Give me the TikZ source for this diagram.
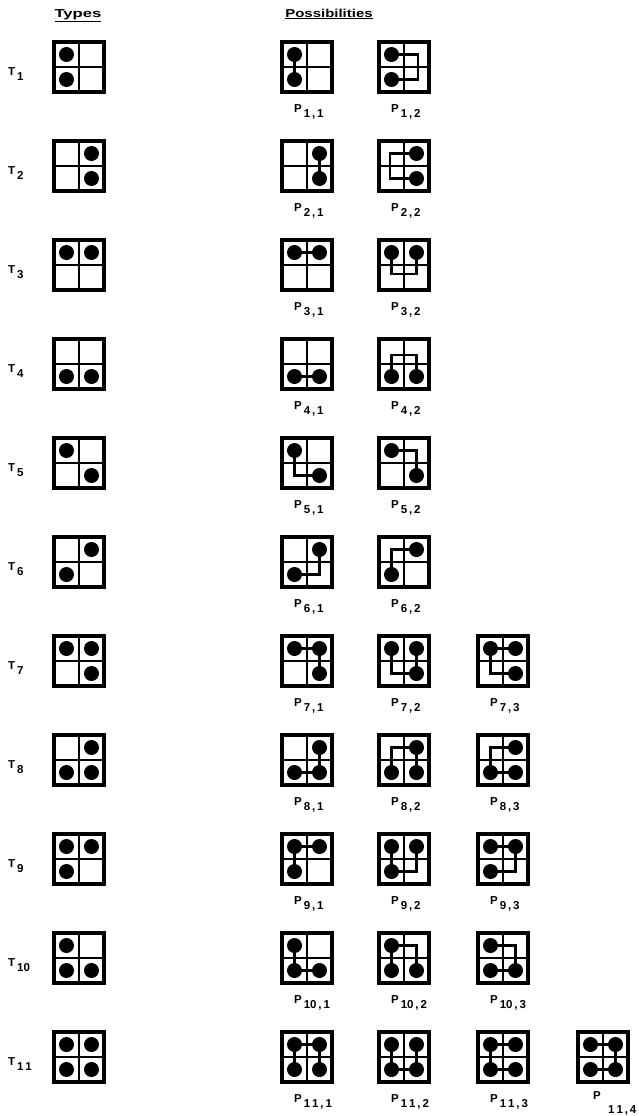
\documentclass[tikz,border=0pt]{standalone}
\usepackage{fontspec}
\setmainfont{Liberation Sans}
\tikzset{
  gridline/.style={line width=1.6pt},
  frame/.style={line width=3.6pt},
  wire/.style={line width=2.6pt, line join=miter},
  lbl/.style={font=\bfseries\fontsize{11.5}{13}\selectfont, inner sep=0pt, anchor=north west},
  head/.style={font=\bfseries\fontsize{11.5}{12}\selectfont, inner sep=0pt},
}
\newcommand\chip[3]{%
  \begin{scope}[shift={(#1,#2)}]
    \coordinate (tl) at (-12.5,-12.5);
    \coordinate (tr) at (12.5,-12.5);
    \coordinate (bl) at (-12.5,12.5);
    \coordinate (br) at (12.5,12.5);
    \draw[gridline] (-25,0) -- (25,0) (0,-25) -- (0,25);
    \draw[frame] (-25,-25) rectangle (25,25);
    #3
  \end{scope}}
\newcommand\dt[1]{\fill (#1) circle[radius=7.5pt];}
\newcommand\plab[3]{\node[lbl] at (#1-13,#2+37) {P\raisebox{-5pt}{\,#3}};}
\newcommand\tlab[2]{\node[lbl] at (8,#2) {T\raisebox{-5pt}{\,#1}};}
\begin{document}
\begin{tikzpicture}[x=1pt,y=-1pt]
\useasboundingbox (0,0) rectangle (639,1116);
\node[head] (htypes) at (78,16) {\underline{\scalebox{1.45}[1]{Types}}};
\node[head] (hposs) at (329,14) {\underline{\scalebox{1.3}[1]{Possibilities}}};
% ---- Row 1
\tlab{1}{67}
\chip{79}{67}{\dt{tl}\dt{bl}}
\chip{307}{67}{\draw[wire] (tl)--(bl); \dt{tl}\dt{bl}}
\plab{307}{67}{1\,,\,1}
\chip{404}{67}{\draw[wire] (tl)--(14,-12.5)--(14,12.5)--(bl); \dt{tl}\dt{bl}}
\plab{404}{67}{1\,,\,2}
% ---- Row 2
\tlab{2}{166}
\chip{79}{166}{\dt{tr}\dt{br}}
\chip{307}{166}{\draw[wire] (tr)--(br); \dt{tr}\dt{br}}
\plab{307}{166}{2\,,\,1}
\chip{404}{166}{\draw[wire] (tr)--(-14,-12.5)--(-14,12.5)--(br); \dt{tr}\dt{br}}
\plab{404}{166}{2\,,\,2}
% ---- Row 3
\tlab{3}{265}
\chip{79}{265}{\dt{tl}\dt{tr}}
\chip{307}{265}{\draw[wire] (tl)--(tr); \dt{tl}\dt{tr}}
\plab{307}{265}{3\,,\,1}
\chip{404}{265}{\draw[wire] (tl)--(-12.5,9)--(12.5,9)--(tr); \dt{tl}\dt{tr}}
\plab{404}{265}{3\,,\,2}
% ---- Row 4
\tlab{4}{364}
\chip{79}{364}{\dt{bl}\dt{br}}
\chip{307}{364}{\draw[wire] (bl)--(br); \dt{bl}\dt{br}}
\plab{307}{364}{4\,,\,1}
\chip{404}{364}{\draw[wire] (bl)--(-12.5,-9)--(12.5,-9)--(br); \dt{bl}\dt{br}}
\plab{404}{364}{4\,,\,2}
% ---- Row 5
\tlab{5}{463}
\chip{79}{463}{\dt{tl}\dt{br}}
\chip{307}{463}{\draw[wire] (tl)--(bl)--(br); \dt{tl}\dt{br}}
\plab{307}{463}{5\,,\,1}
\chip{404}{463}{\draw[wire] (tl)--(tr)--(br); \dt{tl}\dt{br}}
\plab{404}{463}{5\,,\,2}
% ---- Row 6
\tlab{6}{562}
\chip{79}{562}{\dt{tr}\dt{bl}}
\chip{307}{562}{\draw[wire] (bl)--(br)--(tr); \dt{tr}\dt{bl}}
\plab{307}{562}{6\,,\,1}
\chip{404}{562}{\draw[wire] (bl)--(tl)--(tr); \dt{tr}\dt{bl}}
\plab{404}{562}{6\,,\,2}
% ---- Row 7
\tlab{7}{661}
\chip{79}{661}{\dt{tl}\dt{tr}\dt{br}}
\chip{307}{661}{\draw[wire] (tl)--(tr)--(br); \dt{tl}\dt{tr}\dt{br}}
\plab{307}{661}{7\,,\,1}
\chip{404}{661}{\draw[wire] (tl)--(bl)--(br) (tr)--(br); \dt{tl}\dt{tr}\dt{br}}
\plab{404}{661}{7\,,\,2}
\chip{503}{661}{\draw[wire] (tr)--(tl)--(bl)--(br); \dt{tl}\dt{tr}\dt{br}}
\plab{503}{661}{7\,,\,3}
% ---- Row 8
\tlab{8}{760}
\chip{79}{760}{\dt{tr}\dt{bl}\dt{br}}
\chip{307}{760}{\draw[wire] (bl)--(br)--(tr); \dt{tr}\dt{bl}\dt{br}}
\plab{307}{760}{8\,,\,1}
\chip{404}{760}{\draw[wire] (bl)--(tl)--(tr)--(br); \dt{tr}\dt{bl}\dt{br}}
\plab{404}{760}{8\,,\,2}
\chip{503}{760}{\draw[wire] (br)--(bl)--(tl)--(tr); \dt{tr}\dt{bl}\dt{br}}
\plab{503}{760}{8\,,\,3}
% ---- Row 9
\tlab{9}{859}
\chip{79}{859}{\dt{tl}\dt{tr}\dt{bl}}
\chip{307}{859}{\draw[wire] (bl)--(tl)--(tr); \dt{tl}\dt{tr}\dt{bl}}
\plab{307}{859}{9\,,\,1}
\chip{404}{859}{\draw[wire] (tl)--(bl)--(br)--(tr); \dt{tl}\dt{tr}\dt{bl}}
\plab{404}{859}{9\,,\,2}
\chip{503}{859}{\draw[wire] (tl)--(tr)--(br)--(bl); \dt{tl}\dt{tr}\dt{bl}}
\plab{503}{859}{9\,,\,3}
% ---- Row 10
\tlab{10}{958}
\chip{79}{958}{\dt{tl}\dt{bl}\dt{br}}
\chip{307}{958}{\draw[wire] (tl)--(bl)--(br); \dt{tl}\dt{bl}\dt{br}}
\plab{307}{958}{10\,,\,1}
\chip{404}{958}{\draw[wire] (bl)--(tl)--(tr)--(br); \dt{tl}\dt{bl}\dt{br}}
\plab{404}{958}{10\,,\,2}
\chip{503}{958}{\draw[wire] (bl)--(br)--(tr)--(tl); \dt{tl}\dt{bl}\dt{br}}
\plab{503}{958}{10\,,\,3}
% ---- Row 11
\tlab{1\,1}{1057}
\chip{79}{1057}{\dt{tl}\dt{tr}\dt{bl}\dt{br}}
\chip{307}{1057}{\draw[wire] (bl)--(tl)--(tr)--(br); \dt{tl}\dt{tr}\dt{bl}\dt{br}}
\plab{307}{1057}{1\,1\,,\,1}
\chip{404}{1057}{\draw[wire] (tl)--(bl)--(br)--(tr); \dt{tl}\dt{tr}\dt{bl}\dt{br}}
\plab{404}{1057}{1\,1\,,\,2}
\chip{503}{1057}{\draw[wire] (tr)--(tl)--(bl)--(br); \dt{tl}\dt{tr}\dt{bl}\dt{br}}
\plab{503}{1057}{1\,1\,,\,3}
\chip{603}{1057}{\draw[wire] (tl)--(tr)--(br)--(bl); \dt{tl}\dt{tr}\dt{bl}\dt{br}}
\node[lbl] (p114) at (593,1091) {P};
\node[lbl] (s114) at (608,1105) {1\,1\,,\,4};
\end{tikzpicture}
\end{document}
